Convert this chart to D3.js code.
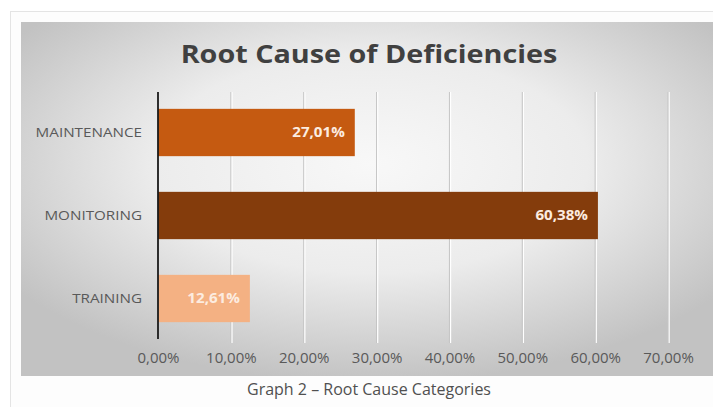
<!DOCTYPE html>
<html><head><meta charset="utf-8">
<script src="https://cdn.jsdelivr.net/npm/d3@7"></script>
<style>html,body{margin:0;padding:0;background:#fff;}svg{display:block;}</style>
</head><body>
<svg id="c" width="713" height="407"></svg>
<script>
const categories = ["MAINTENANCE", "MONITORING", "TRAINING"];
const values = [27.01, 60.38, 12.61];
const barColors = ["#c55a11", "#843c0c", "#f4b183"];
const tickValues = [0, 10, 20, 30, 40, 50, 60, 70];
const titleText = "Root Cause of Deficiencies";
const captionText = "Graph 2 \u2013 Root Cause Categories";

const FONT = "'Open Sans', Lato, sans-serif";
const svg = d3.select("#c");
const defs = svg.append("defs");
const rg = defs.append("radialGradient").attr("id","bg")
  .attr("cx","50%").attr("cy","40%").attr("r","62%");
rg.append("stop").attr("offset","0%").attr("stop-color","#f8f8f8");
rg.append("stop").attr("offset","50%").attr("stop-color","#ececec");
rg.append("stop").attr("offset","100%").attr("stop-color","#c2c2c2");

// horizontal stretch helper (the reference text is drawn wide)
function stretch(sel, f) {
  sel.each(function() {
    const w = this.getComputedTextLength();
    d3.select(this).attr("textLength", w * f).attr("lengthAdjust", "spacingAndGlyphs");
  });
}

// outer frame
svg.append("rect").attr("x",10.5).attr("y",11.5).attr("width",720).attr("height",420)
  .attr("fill","#fdfdfd").attr("stroke","#e4e4e4");
// chart area
svg.append("rect").attr("x",21).attr("y",22).attr("width",700).attr("height",354)
  .attr("fill","url(#bg)");

const fmt = v => v.toFixed(2).replace(".", ",") + "%";

const x = d3.scaleLinear().domain([0,70]).range([158, 668]);
const y = d3.scaleBand().domain(categories).range([91, 340]).paddingInner(0.43).paddingOuter(0.215);

// gridlines
svg.append("g").selectAll("line").data(tickValues.slice(1)).join("line")
  .attr("x1",d=>x(d)+1).attr("x2",d=>x(d)+1).attr("y1",92).attr("y2",343)
  .attr("stroke","#ffffff").attr("stroke-width",1.5);
svg.append("g").selectAll("line").data(tickValues.slice(1)).join("line")
  .attr("x1",d=>x(d)).attr("x2",d=>x(d)).attr("y1",92).attr("y2",343)
  .attr("stroke","#c4c4c4").attr("stroke-width",1);

// bars
svg.append("g").selectAll("rect").data(values).join("rect")
  .attr("x", x(0)).attr("y",(d,i)=>y(categories[i]))
  .attr("width", d=>x(d)-x(0)).attr("height", y.bandwidth())
  .attr("fill",(d,i)=>barColors[i]);

// value labels
const vl = svg.append("g").selectAll("text").data(values).join("text")
  .attr("x", d=>x(d)-10).attr("y",(d,i)=>y(categories[i])+y.bandwidth()/2)
  .attr("dy","0.36em").attr("text-anchor","end")
  .attr("font-family",FONT).attr("font-weight","bold")
  .attr("font-size",13.5).attr("fill","#fcece0")
  .text(fmt);
stretch(vl, 1.12);

// x axis
const xAxis = d3.axisBottom(x).tickValues(tickValues).tickFormat(d=>fmt(d)).tickSize(0).tickPadding(0);
const gx = svg.append("g").attr("transform","translate(0,342)").call(xAxis);
gx.select(".domain").remove();
gx.selectAll("text").attr("y",16).attr("dy","0.35em")
  .attr("font-family",FONT).attr("font-size",14).attr("fill","#595959");
stretch(gx.selectAll("text"), 1.07);

// y axis
const yAxis = d3.axisLeft(y).tickSize(0).tickPadding(16);
const gy = svg.append("g").attr("transform","translate(158,0)").call(yAxis);
gy.select(".domain").remove();
gy.selectAll("text").attr("font-family",FONT).attr("font-size",13).attr("fill","#595959");
stretch(gy.selectAll("text"), 1.17);

// axis line
svg.append("line").attr("x1",158).attr("x2",158).attr("y1",92).attr("y2",339)
  .attr("stroke","#1a1a1a").attr("stroke-width",1.8);

// title
const t = svg.append("text").attr("x",369).attr("y",63).attr("text-anchor","middle")
  .attr("font-family",FONT).attr("font-weight","bold")
  .attr("font-size",25).attr("fill","#404040").text(titleText);
stretch(t, 1.15);

// caption
svg.append("text").attr("x",369).attr("y",395).attr("text-anchor","middle")
  .attr("font-family",FONT)
  .attr("font-size",16).attr("fill","#505050").text(captionText);
</script>
</body></html>
